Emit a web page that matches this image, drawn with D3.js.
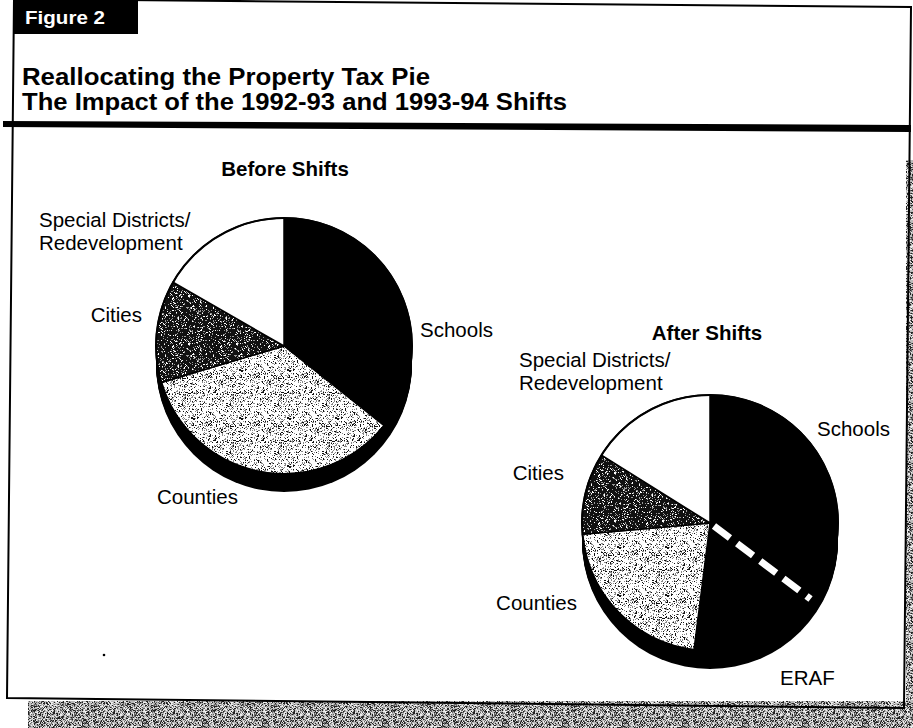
<!DOCTYPE html>
<html><head><meta charset="utf-8">
<script src="https://cdn.jsdelivr.net/npm/d3@7"></script>
<style>html,body{margin:0;padding:0;background:#fff;}svg{display:block;}</style>
</head><body>
<script>
// ---- data ----
const beforeCategories = ["Schools", "Counties", "Cities", "Special Districts/Redevelopment"];
const beforeValues = [35.7, 34.7, 12.9, 16.7];
const afterCategories = ["Schools", "ERAF", "Counties", "Cities", "Special Districts/Redevelopment"];
const afterValues = [35.3, 16.7, 21.6, 10.3, 16.1];
const figureTag = "Figure 2";
const titleLines = ["Reallocating the Property Tax Pie", "The Impact of the 1992-93 and 1993-94 Shifts"];
const pieTitles = ["Before Shifts", "After Shifts"];

// ---- styles / layout ----
const W = 913, H = 728;
const fillFor = {
  "Schools": "#000",
  "ERAF": "#000",
  "Counties": "url(#lightStip)",
  "Cities": "url(#darkStip)",
  "Special Districts/Redevelopment": "#fff"
};
const pies = [
  { cats: beforeCategories, vals: beforeValues, cx: 284, cy: 346, title: pieTitles[0], tx: 285, ty: 176,
    labels: {
      "Schools": { dx: 136, dy: -9, anchor: "start" },
      "Counties": { dx: -127, dy: 158, anchor: "start" },
      "Cities": { dx: -142, dy: -24, anchor: "end" },
      "Special Districts/Redevelopment": { dx: -245, dy: -119, anchor: "start" }
    } },
  { cats: afterCategories, vals: afterValues, cx: 710, cy: 523, title: pieTitles[1], tx: 707, ty: 340,
    labels: {
      "Schools": { dx: 107, dy: -87, anchor: "start" },
      "ERAF": { dx: 70, dy: 162, anchor: "start" },
      "Counties": { dx: -133, dy: 87, anchor: "end" },
      "Cities": { dx: -146, dy: -43, anchor: "end" },
      "Special Districts/Redevelopment": { dx: -191, dy: -156, anchor: "start" }
    } }
];
const R = 128, DEPTH = 18;

const svg = d3.select("body").append("svg").attr("width", W).attr("height", H)
  .style("font-family", "'Liberation Sans', Arial, sans-serif");
const defs = svg.append("defs");

// deterministic hash for texture specks (decoration only)
function hash(i, j, s) {
  let h = (i * 374761393 + j * 668265263 + s * 982451653) | 0;
  h = (h ^ (h >>> 13)) * 1274126177 | 0;
  h = h ^ (h >>> 16);
  return ((h >>> 0) % 10000) / 10000;
}
function texture(id, size, bg, specks, seed) {
  const p = defs.append("pattern").attr("id", id).attr("patternUnits", "userSpaceOnUse")
    .attr("width", size).attr("height", size);
  p.append("rect").attr("width", size).attr("height", size).attr("fill", bg);
  const pts = [];
  for (let i = 0; i < size; i++) for (let j = 0; j < size; j++) {
    const v = hash(i, j, seed);
    for (const s of specks) { if (v < s.p) { pts.push([i, j, s.c]); break; } }
  }
  p.selectAll("rect.s").data(pts).join("rect").attr("class", "s")
    .attr("x", d => d[0]).attr("y", d => d[1]).attr("width", 1).attr("height", 1).attr("fill", d => d[2]);
}
texture("lightStip", 48, "#fff", [{ p: 0.12, c: "#111" }, { p: 0.30, c: "#888" }], 7);
texture("darkStip", 48, "#111", [{ p: 0.10, c: "#fff" }, { p: 0.22, c: "#999" }], 11);
texture("noise", 60, "#bbb", [{ p: 0.22, c: "#222" }, { p: 0.42, c: "#666" }, { p: 0.62, c: "#eee" }], 3);

// ---- background noise strips (scanned page edge) ----
svg.append("rect").attr("x", 28).attr("y", 701).attr("width", W - 28).attr("height", H - 701).attr("fill", "url(#noise)");
svg.append("rect").attr("x", 906).attr("y", 160).attr("width", 7).attr("height", 568).attr("fill", "url(#noise)");

// ---- frame ----
svg.append("path").attr("d", "M14,-1 L911,7 L904,708 L7,698 Z")
  .attr("fill", "none").attr("stroke", "#000").attr("stroke-width", 2);
svg.append("path").attr("d", "M3,121 L911,125 L911,132 L3,127 Z").attr("fill", "#000");

// tag
svg.append("rect").attr("x", 13).attr("y", 0).attr("width", 125).attr("height", 34).attr("fill", "#000");
svg.append("text").attr("x", 25).attr("y", 24).attr("fill", "#fff")
  .attr("font-size", 19).attr("font-weight", "bold").text(figureTag)
  .attr("textLength", 80).attr("lengthAdjust", "spacingAndGlyphs");

// title
const titleWidths = [408, 545];
titleLines.forEach((t, i) => {
  svg.append("text").attr("x", 22).attr("y", 85 + i * 25)
    .attr("font-size", 23).attr("font-weight", "bold").attr("fill", "#000")
    .attr("textLength", titleWidths[i]).attr("lengthAdjust", "spacingAndGlyphs").text(t);
});

// ---- pies ----
const pieGen = d3.pie().sort(null).value(d => d.v).startAngle(0).endAngle(2 * Math.PI);
const arc = d3.arc().innerRadius(0).outerRadius(R);

pies.forEach(P => {
  const data = P.cats.map((c, i) => ({ c, v: P.vals[i] }));
  const arcs = pieGen(data);
  const g = svg.append("g").attr("transform", `translate(${P.cx},${P.cy})`);
  // 3D side (extrusion)
  for (let k = DEPTH; k >= 1; k -= 1) {
    g.append("circle").attr("cx", 0).attr("cy", k).attr("r", R).attr("fill", "#000");
  }
  g.selectAll("path.slice").data(arcs).join("path").attr("class", "slice")
    .attr("d", arc).attr("fill", d => fillFor[d.data.c])
    .attr("stroke", "#000").attr("stroke-width", 1.5).attr("stroke-linejoin", "round");
  g.append("circle").attr("r", R).attr("fill", "none").attr("stroke", "#000").attr("stroke-width", 2);

  // ERAF boundary dashes
  const eraf = arcs.find(a => a.data.c === "ERAF");
  if (eraf) {
    const a = eraf.startAngle;
    const x1 = Math.sin(a) * 4, y1 = -Math.cos(a) * 4;
    const x2 = Math.sin(a) * (R - 2), y2 = -Math.cos(a) * (R - 2);
    g.append("line").attr("x1", x1).attr("y1", y1).attr("x2", x2).attr("y2", y2)
      .attr("stroke", "#000").attr("stroke-width", 10).attr("stroke-dasharray", "22,7");
    g.append("line").attr("x1", x1 + Math.sin(a) * 1).attr("y1", y1 - Math.cos(a) * 1)
      .attr("x2", x2).attr("y2", y2)
      .attr("stroke", "#fff").attr("stroke-width", 7).attr("stroke-dasharray", "20,9");
  }

  // labels
  arcs.forEach(a => {
    const L = P.labels[a.data.c];
    const parts = a.data.c.startsWith("Special") ? ["Special Districts/", "Redevelopment"] : [a.data.c];
    const t = svg.append("text").attr("x", P.cx + L.dx).attr("y", P.cy + L.dy)
      .attr("text-anchor", L.anchor).attr("font-size", 20.5).attr("fill", "#000");
    parts.forEach((p, i) => t.append("tspan").attr("x", P.cx + L.dx).attr("dy", i === 0 ? 0 : 23).text(p));
  });

  svg.append("text").attr("x", P.tx).attr("y", P.ty).attr("text-anchor", "middle")
    .attr("font-size", 20.5).attr("font-weight", "bold").text(P.title);
});

// stray scan dot
svg.append("circle").attr("cx", 104).attr("cy", 655).attr("r", 1.3).attr("fill", "#000");
</script>
</body></html>
